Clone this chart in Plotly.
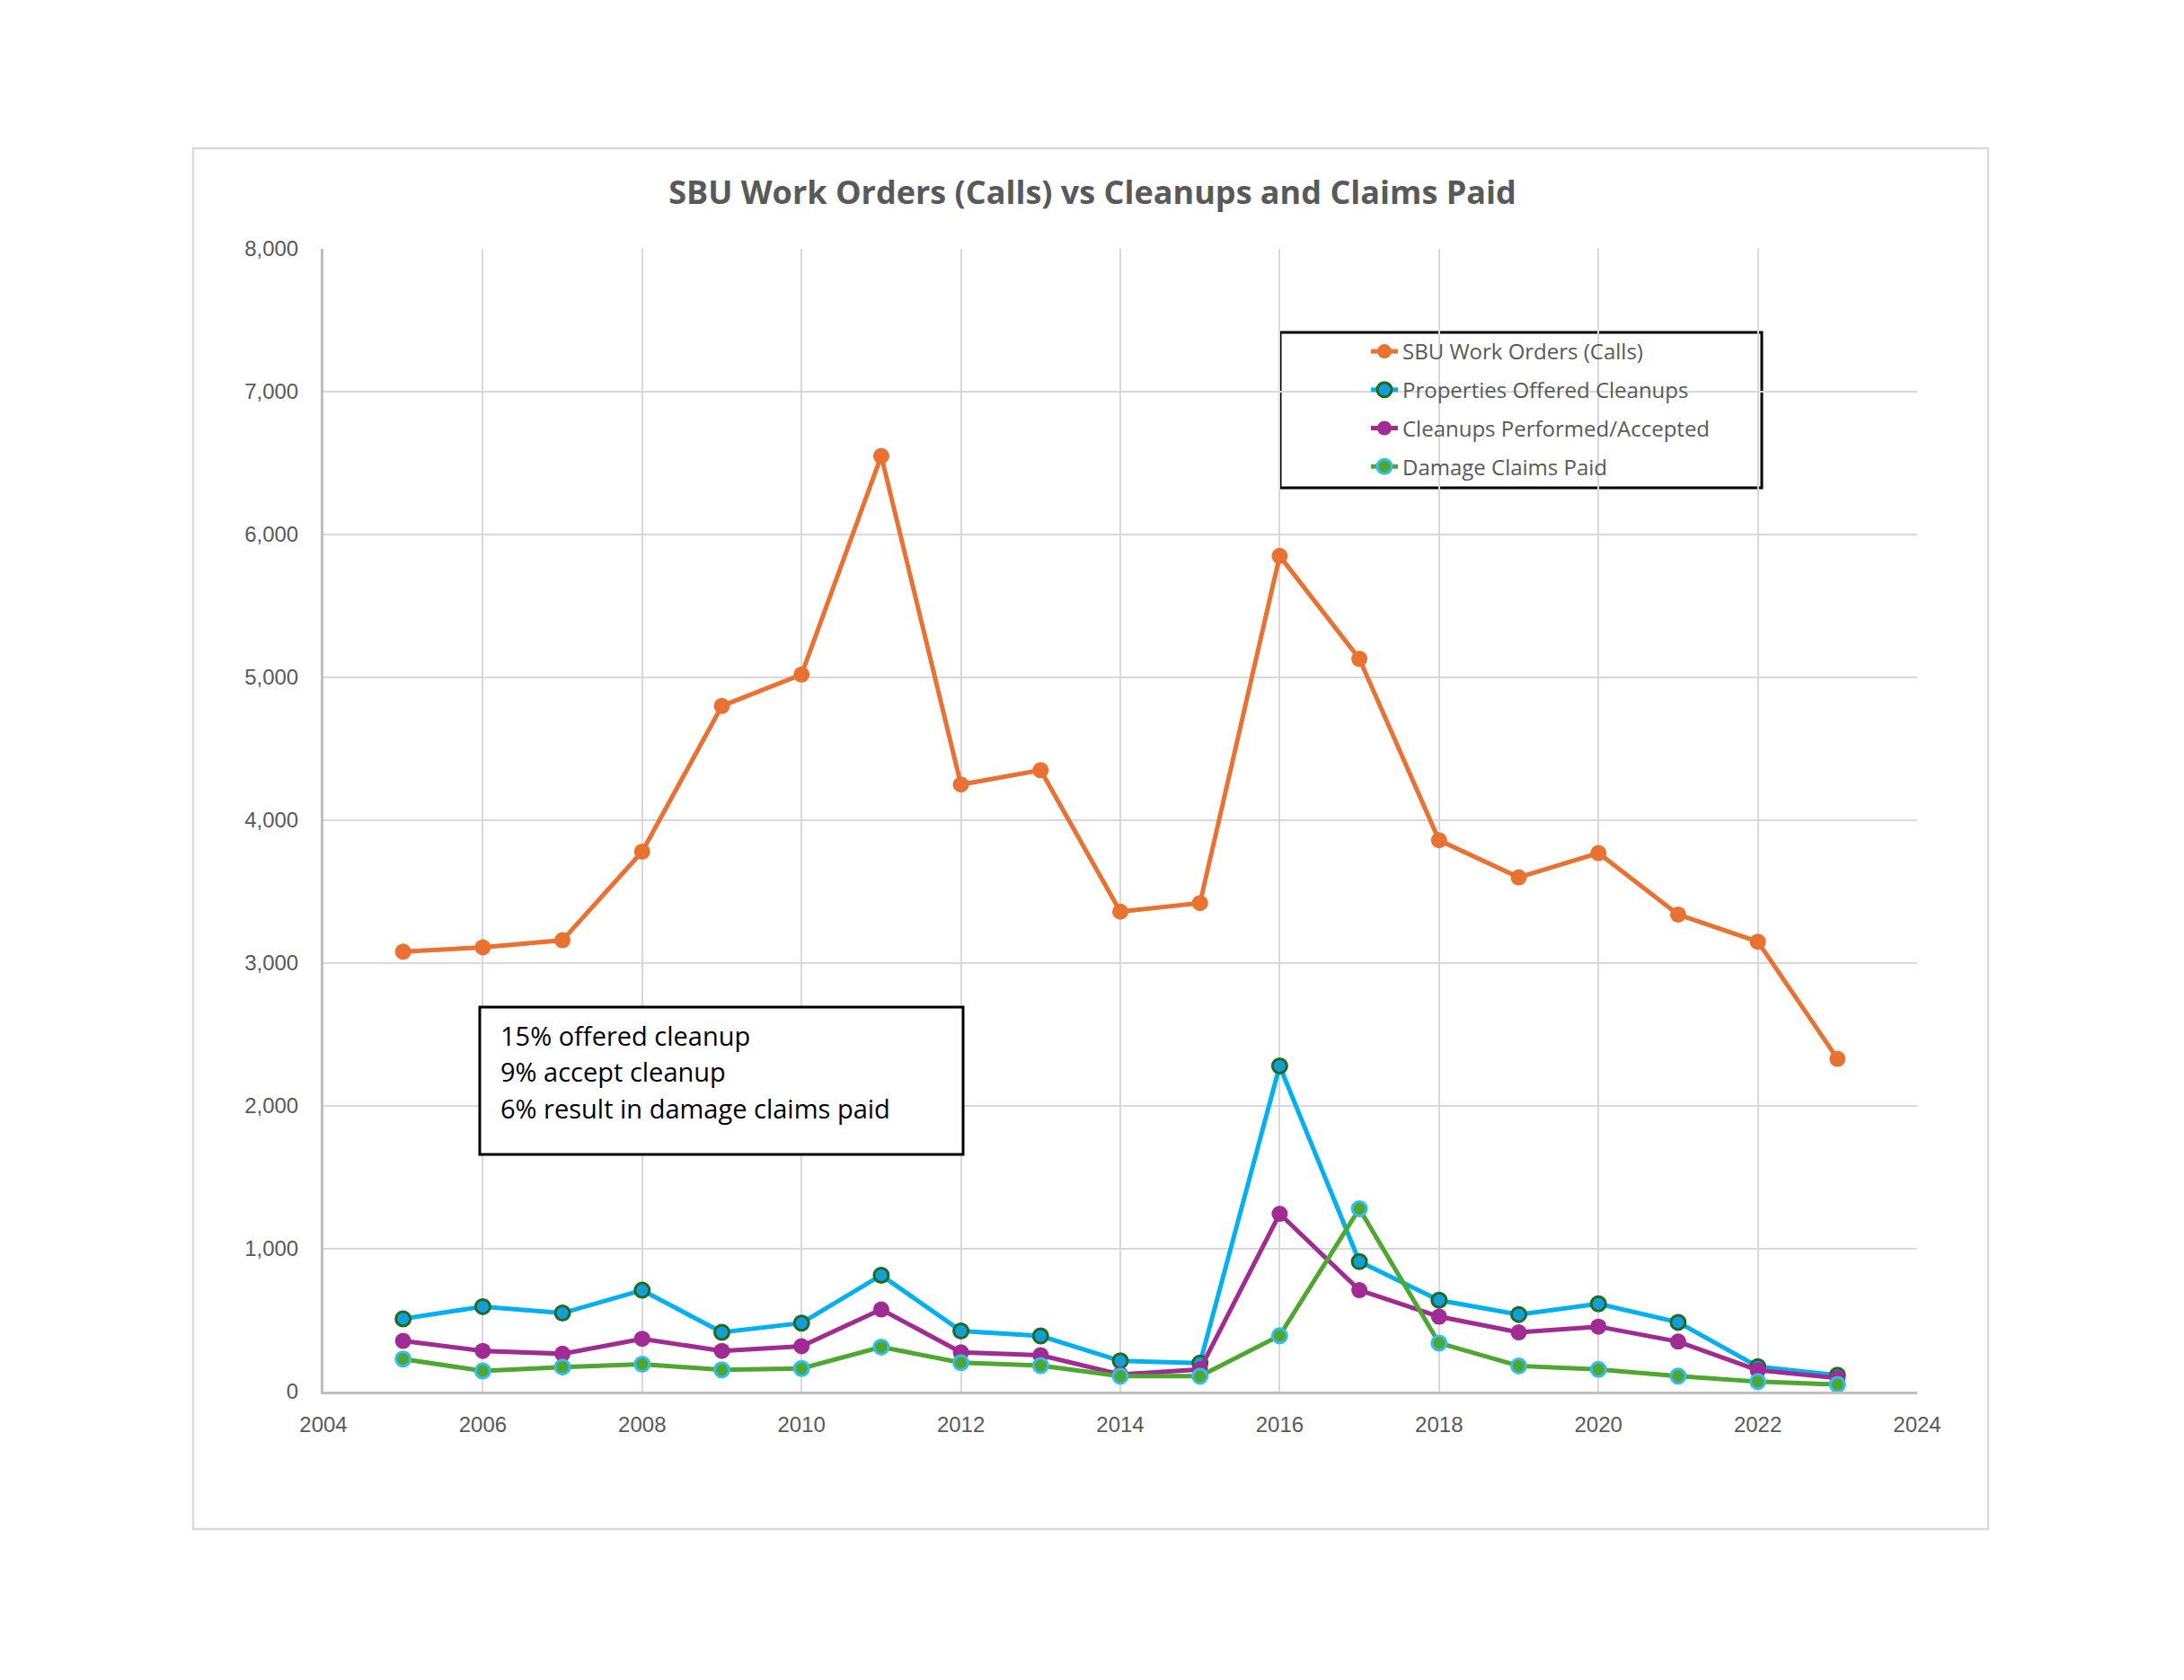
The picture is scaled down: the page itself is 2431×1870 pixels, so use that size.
import plotly.graph_objects as go

years = list(range(2005, 2024))
calls = [3080, 3110, 3160, 3780, 4800, 5020, 6550, 4250, 4350, 3360, 3420, 5850, 5130, 3860, 3600, 3770, 3340, 3150, 2330]
offered = [510, 595, 550, 710, 415, 480, 815, 425, 390, 215, 200, 2280, 910, 640, 540, 615, 485, 175, 115]
accepted = [355, 285, 265, 370, 285, 318, 575, 275, 255, 120, 155, 1245, 710, 525, 415, 455, 350, 150, 95]
claims = [228, 145, 172, 192, 152, 162, 312, 203, 182, 108, 108, 392, 1280, 340, 180, 155, 108, 70, 50]

series_names = ["SBU Work Orders (Calls)", "Properties Offered Cleanups",
                "Cleanups Performed/Accepted", "Damage Claims Paid"]
note_lines = ["15% offered cleanup", "9% accept cleanup", "6% result in damage claims paid"]
title_text = "SBU Work Orders (Calls) vs Cleanups and Claims Paid"

OFF = 8  # page body margin
W, H = 2431 - OFF, 1870 - OFF
PL, PR, PT, PB = 360, 2134, 277, 1549  # plot area in page pixels


def px(x):
    return (x - PL) / (PR - PL)


def py(y):
    return (PB - y) / (PB - PT)


fig = go.Figure()

styles = [
    dict(line=dict(color="#E97132", width=5),
         marker=dict(color="#E97132", size=18, line=dict(color="#E97132", width=0))),
    dict(line=dict(color="#00B0F0", width=5),
         marker=dict(color="#159DD6", size=16, line=dict(color="#1E6B24", width=3))),
    dict(line=dict(color="#A02B93", width=5),
         marker=dict(color="#A02B93", size=18, line=dict(color="#A02B93", width=0))),
    dict(line=dict(color="#4EA72E", width=5),
         marker=dict(color="#4EA72E", size=16, line=dict(color="#33BDF0", width=3))),
]

for i, (name, vals) in enumerate(zip(series_names, [calls, offered, accepted, claims])):
    fig.add_trace(go.Scatter(x=years, y=vals, mode="lines+markers", name=name,
                             legendgroup=f"g{i}", **styles[i]))

fig.update_layout(
    width=W, height=H, autosize=False,
    margin=dict(l=PL - OFF, r=W - (PR - OFF), t=PT - OFF, b=H - (PB - OFF), pad=0),
    paper_bgcolor="white", plot_bgcolor="white",
    title=dict(text=title_text, x=(1216 - OFF) / W, xref="container", xanchor="center",
               y=1 - (214 - OFF) / H, yref="container", yanchor="middle",
               font=dict(family="Open Sans", size=36, color="#595959", weight="bold")),
    showlegend=True,
    legend=dict(x=px(1521), y=py(369), xanchor="left", yanchor="top",
                bgcolor="rgba(0,0,0,0)", borderwidth=0, tracegroupgap=8.5,
                font=dict(family="Open Sans", size=24, color="#595959")),
    font=dict(family="Liberation Sans", size=24, color="#595959"),
)

fig.update_xaxes(range=[2004, 2024], dtick=2, tick0=2004, showgrid=True,
                 gridcolor="#D9D9D9", gridwidth=2, showline=True, linecolor="#BFBFBF",
                 linewidth=3, zeroline=False, ticks="", ticklabelstandoff=13,
                 tickfont=dict(family="Liberation Sans", size=24, color="#595959"))
fig.update_yaxes(range=[0, 8000], dtick=1000, tickformat=",d", showgrid=True,
                 gridcolor="#D9D9D9", gridwidth=2, showline=True, linecolor="#BFBFBF",
                 linewidth=3, zeroline=False, ticks="", ticklabelstandoff=20,
                 tickfont=dict(family="Liberation Sans", size=24, color="#595959"))

# outer chart border
fig.add_shape(type="rect", xref="paper", yref="paper",
              x0=px(215), x1=px(2213), y0=py(1702), y1=py(165),
              line=dict(color="#D9D9D9", width=2.5), fillcolor="rgba(0,0,0,0)", layer="below")
# legend box
fig.add_shape(type="rect", xref="paper", yref="paper",
              x0=px(1425), x1=px(1961), y0=py(543), y1=py(370),
              line=dict(color="black", width=3), fillcolor="white", layer="below")
# note box
fig.add_shape(type="rect", xref="paper", yref="paper",
              x0=px(534), x1=px(1072), y0=py(1285), y1=py(1121),
              line=dict(color="black", width=3), fillcolor="white", layer="above")

for k, t in enumerate(note_lines):
    fig.add_annotation(text=t, xref="paper", yref="paper", x=px(555), y=py(1152 + 40.5 * k),
                       xanchor="left", yanchor="middle", showarrow=False,
                       font=dict(family="Open Sans", size=29, color="black"))

fig.write_html("out.html")
